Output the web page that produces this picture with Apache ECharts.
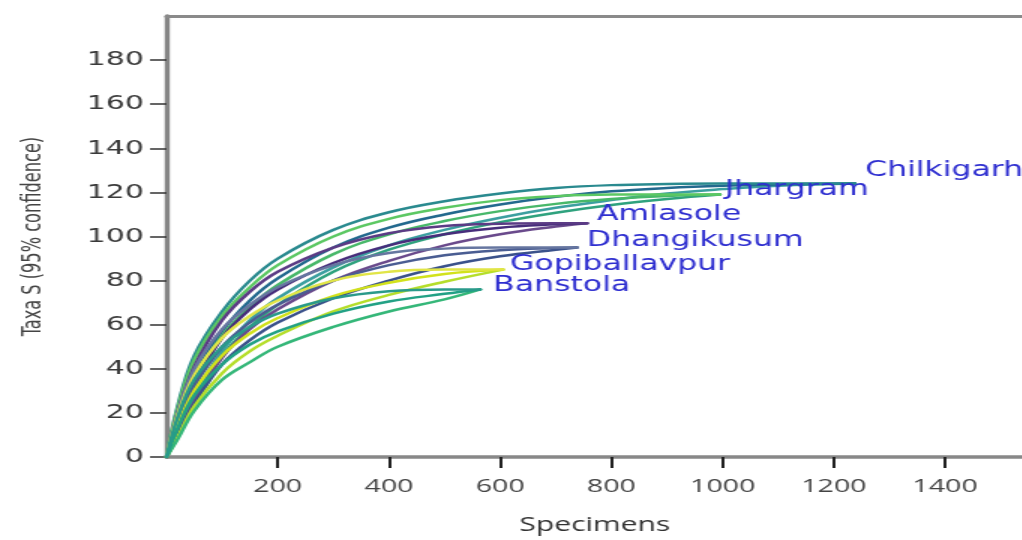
<!DOCTYPE html>
<html>
<head>
<meta charset="utf-8">
<title>Rarefaction curves</title>
<script src="https://cdn.jsdelivr.net/npm/echarts@6/dist/echarts.min.js"></script>
<style>
    html, body { margin: 0; padding: 0; overflow: hidden; background: #fff; }
    /* the source figure is stretched sideways, so draw narrow and widen */
    #chart { width: 682px; height: 540px; transform: scaleX(1.5); transform-origin: 0 0; }
</style>
</head>
<body>
<div id="chart"></div>
<script>
// sample sizes used for every curve (each site stops at its own total)
const steps = [0, 20, 50, 100, 150, 200, 300, 400, 500, 600, 700, 800, 900, 1000, 1100];

const sites  = ['Chilkigarh', 'Jhargram', 'Amlasole', 'Dhangikusum', 'Gopiballavpur', 'Banstola'];
const totals = [1238, 995, 756, 738, 605, 564];

// rarefied taxa S, one row per site, last value is at the site total
const meanS = [
    [0, 17, 37, 57, 71, 81, 95, 104, 110, 114.5, 118, 120.5, 122, 123, 123.6, 124],
    [0, 16, 35, 55, 68, 78, 92, 101, 107, 111.5, 114.8, 117, 118.4, 119],
    [0, 15, 33, 54, 67, 76, 88, 96, 101, 104, 105.5, 106],
    [0, 15, 32, 50, 61, 69, 80, 87, 91.5, 93.8, 94.8, 95],
    [0, 14, 30, 46, 56, 63, 73, 79, 83, 85],
    [0, 13, 28, 42, 51, 57, 65, 70.5, 74, 76]
];
const upperS = [
    [0, 23, 46, 66, 80, 90, 103, 111, 116, 119.5, 122, 123.3, 123.8, 124, 124, 124],
    [0, 22, 44, 64, 77, 87, 100, 108, 113, 116.5, 118.3, 119, 119, 119],
    [0, 20, 41, 62, 75, 84, 95, 101.5, 104.8, 105.8, 106, 106],
    [0, 20, 40, 58, 69, 77, 87, 92.5, 94.5, 95, 95, 95],
    [0, 19, 37, 54, 64, 71, 80, 84, 85, 85],
    [0, 18, 35, 50, 59, 65, 72, 75.2, 76, 76]
];
const lowerS = [
    [0, 11, 28, 48, 62, 72, 86, 96, 103, 108.5, 113, 116.5, 119.5, 121.5, 123, 124],
    [0, 10, 26, 46, 59, 69, 84, 94, 101, 106.5, 110.8, 114.3, 117, 119],
    [0, 10, 25, 45, 58, 67, 80, 89, 96, 101, 104.5, 106],
    [0, 10, 24, 42, 53, 61, 72, 80, 86.5, 91, 94, 95],
    [0, 9, 23, 38, 48, 55, 66, 73.5, 79.5, 85],
    [0, 8, 21, 35, 43, 50, 59, 66, 71.5, 76]
];

const xTicks = [200, 400, 600, 800, 1000, 1200, 1400];
const yTicks = [0, 20, 40, 60, 80, 100, 120, 140, 160, 180];

// styles
const siteColors = [
    ['#3c9fa0', '#23698e', '#2a8a8f'],
    ['#2fa27e', '#48b86a', '#5cc863'],
    ['#6a4a8c', '#472d7b', '#5b3b85'],
    ['#3b528b', '#4a5d92', '#6676a0'],
    ['#b5de2b', '#d2e21b', '#e1e547'],
    ['#35b779', '#22a185', '#2a9a8a']
];
const labelOffsets = [[6.7, -13], [3.3, -5], [6.7, -9], [6.7, -7], [4.7, -5], [8.7, -4]];

function curve(i, vals) {
    const xs = steps.slice(0, vals.length - 1).concat(totals[i]);
    return vals.map((v, k) => [xs[k], v]);
}

const series = [];
sites.forEach((name, i) => {
    [lowerS, meanS, upperS].forEach((arr, j) => {
        const s = {
            name: name + (j === 1 ? '' : (j === 0 ? ' lower' : ' upper')),
            type: 'line',
            smooth: 0.4,
            showSymbol: false,
            silent: true,
            lineStyle: {width: 2.5, color: siteColors[i][j], cap: 'round'},
            data: curve(i, arr[i])
        };
        if (j === 1) {
            s.endLabel = {
                show: true,
                formatter: name,
                color: '#2e2ed0',
                fontSize: 21,
                fontFamily: 'DejaVu Sans',
                distance: 0,
                align: 'left',
                verticalAlign: 'middle',
                offset: labelOffsets[i]
            };
        }
        series.push(s);
    });
});

const chart = echarts.init(document.getElementById('chart'), null, {renderer: 'canvas'});

chart.setOption({
    animation: false,
    backgroundColor: '#fff',
    grid: {left: 111, right: 0, top: 16, bottom: 82, containLabel: false},
    xAxis: [
        {
            type: 'value',
            min: 0,
            max: 1540,
            position: 'bottom',
            name: 'Specimens',
            nameLocation: 'middle',
            nameGap: 58,
            nameTextStyle: {fontSize: 20, fontFamily: 'Open Sans', color: '#333'},
            axisLine: {show: true, onZero: false, lineStyle: {color: '#888', width: 3.5}},
            axisTick: {show: true, customValues: xTicks, length: 11, lineStyle: {color: '#222', width: 2}},
            axisLabel: {
                customValues: xTicks, margin: 20, fontSize: 19, fontFamily: 'Open Sans', color: '#444',
                formatter: v => String(v)
            },
            splitLine: {show: false}
        },
        {
            type: 'value',
            min: 0,
            max: 1540,
            position: 'top',
            axisLine: {show: true, onZero: false, lineStyle: {color: '#8a8a8a', width: 3}},
            axisTick: {show: false},
            axisLabel: {show: false},
            splitLine: {show: false}
        }
    ],
    yAxis: {
        type: 'value',
        min: 0,
        max: 200,
        name: 'Taxa S (95% confidence)',
        nameLocation: 'middle',
        nameGap: 80,
        nameRotate: 90,
        nameTextStyle: {fontSize: 18, fontFamily: 'DejaVu Sans Condensed, DejaVu Sans', color: '#444'},
        axisLine: {show: true, lineStyle: {color: '#858585', width: 3.4}},
        axisTick: {show: true, customValues: yTicks, length: 11, lineStyle: {color: '#333', width: 1.5}},
        axisLabel: {
            customValues: yTicks, margin: 15, fontSize: 20, fontFamily: 'DejaVu Sans', color: '#3a3a3a',
            formatter: v => String(v)
        },
        splitLine: {show: false}
    },
    series: series
});
</script>
</body>
</html>
